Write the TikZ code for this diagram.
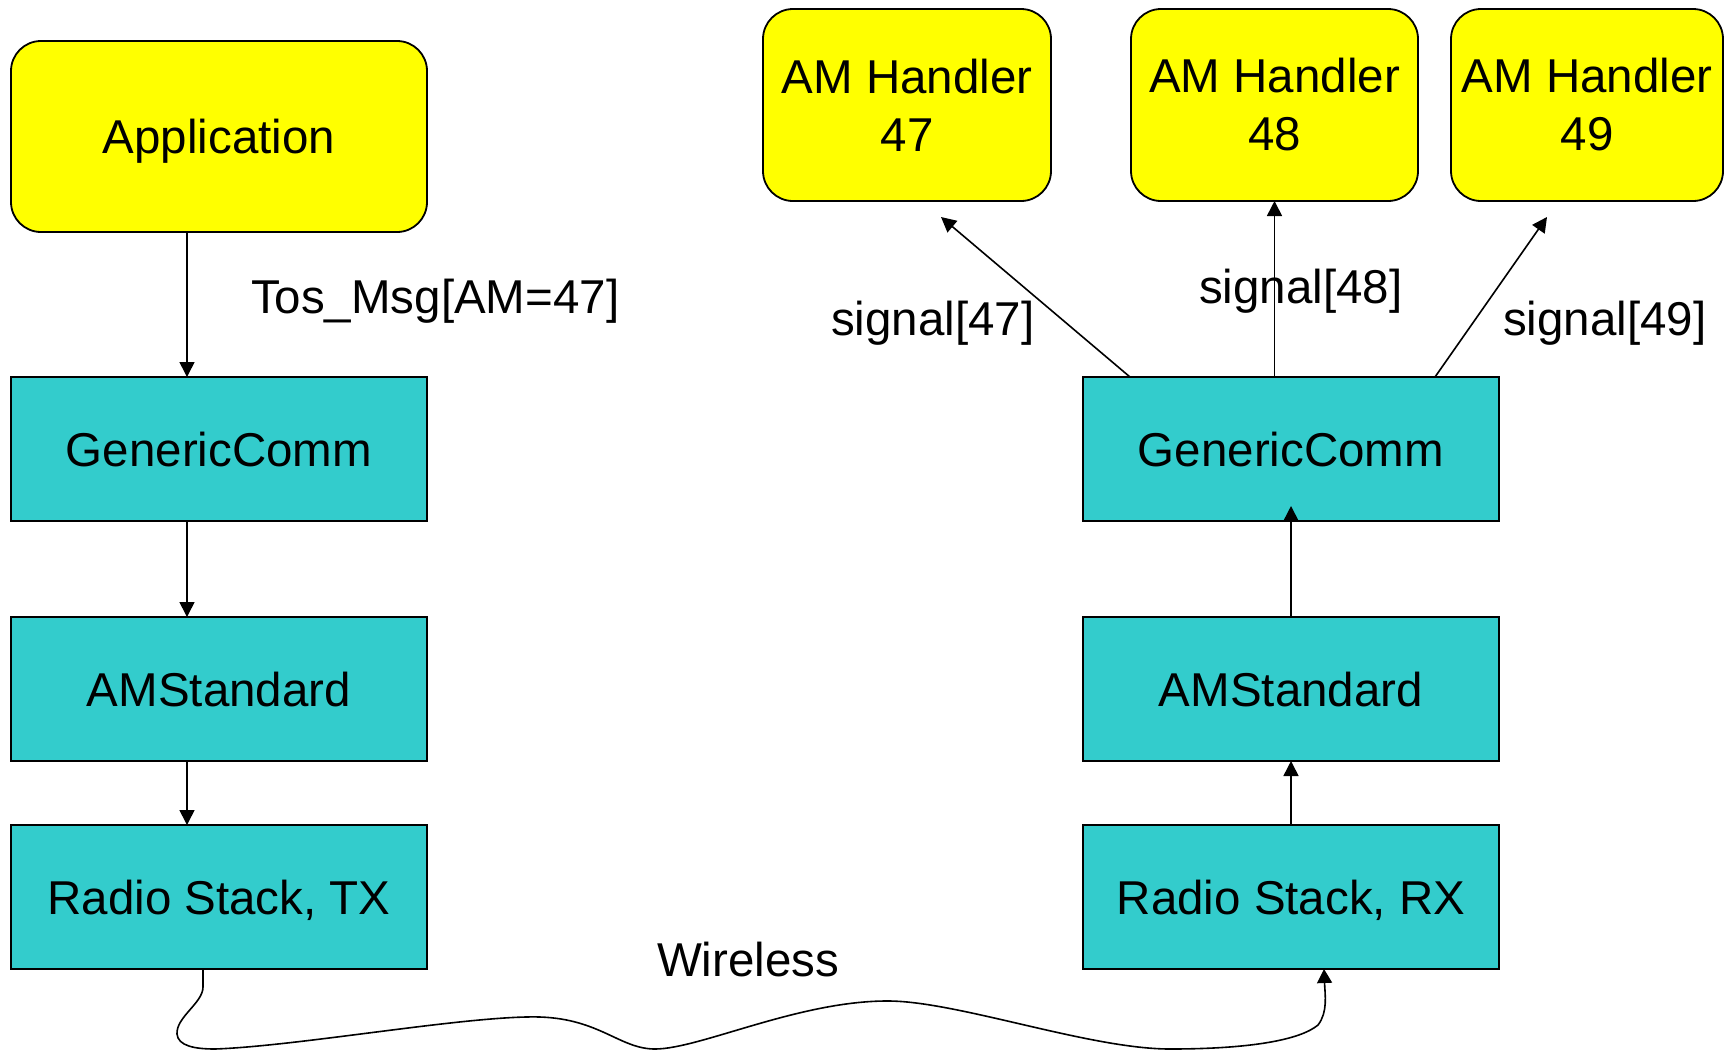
\documentclass[tikz,border=0pt]{standalone}
\usepackage{fontspec}
\setmainfont{Liberation Sans}
\usetikzlibrary{arrows.meta}
\definecolor{boxyellow}{HTML}{FFFF00}
\definecolor{boxcyan}{HTML}{33CCCC}
\begin{document}
\begin{tikzpicture}[x=1pt,y=-1pt,
  every node/.style={font=\fontsize{47.5}{58}\selectfont, inner sep=0pt, outer sep=0pt},
  handler/.style={draw, line width=1.8pt, fill=boxyellow, rounded corners=30pt, align=center},
  layer/.style={draw, line width=1.8pt, fill=boxcyan, minimum width=416pt, minimum height=144pt,
                text height=34pt, text depth=0pt},
  link/.style={line width=1.6pt, -{Triangle[length=15pt,width=15pt]}},
  lbl/.style={anchor=base west}]
\useasboundingbox (0,0) rectangle (1729,1050);

% sending side
\node[handler, minimum width=416pt, minimum height=191pt, text height=34pt, text depth=0pt]
  (app) at (219,136.5) {Application};
\node[layer] (gc1) at (219,449) {GenericComm};
\node[layer] (am1) at (219,689) {AMStandard};
\node[layer] (tx)  at (219,897) {Radio Stack, TX};

% receiving side
\node[layer] (gc2) at (1291,449) {GenericComm};
\node[layer] (am2) at (1291,689) {AMStandard};
\node[layer] (rx)  at (1291,897) {Radio Stack, RX};

% handlers
\node[handler, minimum width=288pt, minimum height=192pt] (h47) at (907,105) {AM Handler\\47};
\node[handler, minimum width=287pt, minimum height=192pt] (h48) at (1274.5,105) {AM Handler\\48};
\node[handler, minimum width=272pt, minimum height=192pt] (h49) at (1587,105) {AM Handler\\49};

% downward chain on the sender
\coordinate (lx) at (187,0);
\draw[link] (app.south -| lx) -- (gc1.north -| lx);
\draw[link] (gc1.south -| lx) -- (am1.north -| lx);
\draw[link] (am1.south -| lx) -- (tx.north -| lx);

% upward chain on the receiver
\draw[link] (rx.north) -- (am2.south);
\draw[link] (am2.north) -- ([yshift=15pt]gc2.south);

% dispatch to the handlers
\coordinate (t47) at (941,217);
\coordinate (t49) at (1547,217);
\draw[link] ([xshift=-161pt]gc2.north) -- (t47);
\draw[link] (gc2.north -| h48.south) -- (h48.south);
\draw[link] ([xshift=144pt]gc2.north) -- (t49);

% radio link
\draw[line width=1.6pt, -{Triangle[length=14pt,width=15pt]}]
  ([xshift=-16pt]tx.south) -- (203,987)
  .. controls (203,1003) and (176,1017) .. (177,1034)
  .. controls (178,1046) and (195,1049) .. (215,1049)
  .. controls (300,1046) and (470,1015) .. (540,1017)
  .. controls (600,1019) and (620,1049) .. (655,1049)
  .. controls (700,1049) and (800,1000) .. (890,1001)
  .. controls (960,1002) and (1090,1049) .. (1170,1049)
  .. controls (1250,1049) and (1300,1040) .. (1318,1025)
  .. controls (1328,1012) and (1325,995) .. ([xshift=33pt]rx.south);

% labels
\node[lbl] (tos) at (251,313) {Tos\_Msg[AM=47]};
\node[lbl] (s47) at (831,335) {signal[47]};
\node[lbl] (s48) at (1199,303) {signal[48]};
\node[lbl] (s49) at (1503,335) {signal[49]};
\node[lbl] (wl)  at (657,976) {Wireless};
\end{tikzpicture}
\end{document}
